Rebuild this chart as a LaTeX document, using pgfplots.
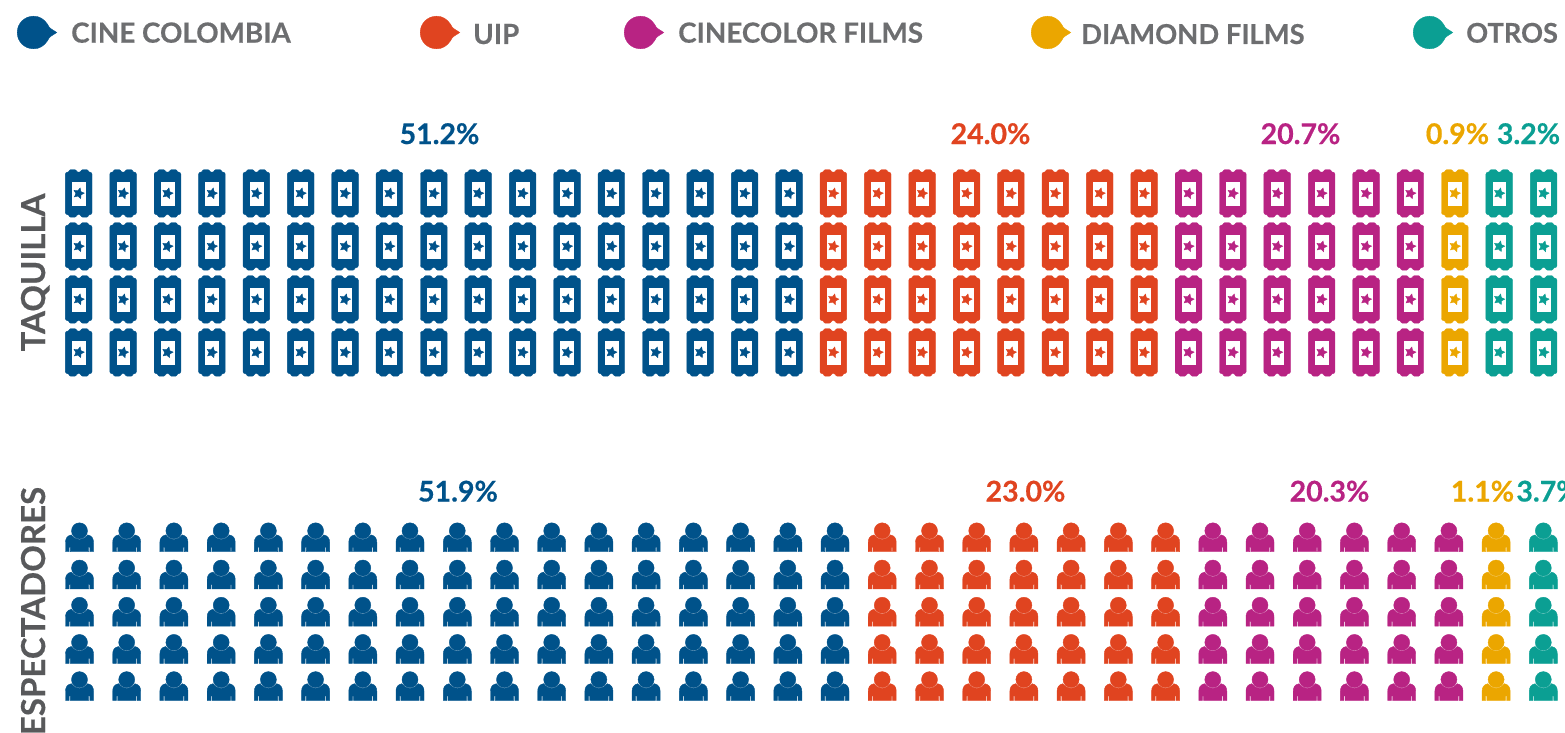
\documentclass[border=0pt]{standalone}
\usepackage{fontspec}
\setmainfont{Lato}[BoldFeatures={FakeBold=0.4}]
\usepackage{pgfplots}
\pgfplotsset{compat=1.18}
\definecolor{cblue}{HTML}{00528A}
\definecolor{cred}{HTML}{E04420}
\definecolor{cmag}{HTML}{B82383}
\definecolor{cyel}{HTML}{EBA600}
\definecolor{cteal}{HTML}{0B9F93}
\definecolor{cgr}{HTML}{6D6E70}
\definecolor{cgd}{HTML}{58595B}
\pgfdeclareplotmark{ticket}{%
  \begin{scope}[x=1pt,y=1pt]
  \fill[rounded corners=0.8pt]
    (-13.3,-20) -- (-13.3,20) -- (-12,21.2) -- (-10,21.3) -- (-9,23.7) -- (-3,23.7)
    -- (-1.6,21.3) -- (1.6,21.3) -- (3,23.7) -- (9,23.7) -- (10,21.3) -- (12,21.2) -- (13.3,20)
    -- (13.3,-20) -- (12,-21.2) -- (10,-21.3) -- (9,-23.7) -- (3,-23.7)
    -- (1.6,-21.3) -- (-1.6,-21.3) -- (-3,-23.7) -- (-9,-23.7) -- (-10,-21.3) -- (-12,-21.2) -- cycle;
  \fill[white] (-6.4,-11.6) rectangle (6.4,11.6);
  \fill (75:5.6) -- (111:2.8) -- (147:5.6) -- (183:2.8) -- (219:5.6) -- (255:2.8) -- (291:5.6) -- (327:2.8) -- (3:5.6) -- (39:2.8) -- cycle;
  \end{scope}
}
\pgfdeclareplotmark{person}{%
  \begin{scope}[x=1pt,y=1pt]
  \fill (0,6.5) circle (8);
  \fill (-14,-14.4) -- (-14,-5) .. controls (-14,-1.5) and (-12.5,1.6) .. (-8.2,2.4)
    .. controls (-5.8,-0.6) and (-2.8,-2.3) .. (0,-2.3)
    .. controls (2.8,-2.3) and (5.8,-0.6) .. (8.2,2.4)
    .. controls (12.5,1.6) and (14,-1.5) .. (14,-5) -- (14,-14.4)
    -- (10.4,-14.4) -- (10.4,-9.8) -- (9.2,-9.8) -- (9.2,-14.4)
    -- (-9.2,-14.4) -- (-9.2,-9.8) -- (-10.4,-9.8) -- (-10.4,-14.4) -- cycle;
  \end{scope}
}
\pgfdeclareplotmark{bubble}{%
  \begin{scope}[x=1pt,y=1pt]
  \fill (14.2,8) .. controls (10.5,13.5) and (6,16.3) .. (0,16.3)
    .. controls (-9,16.3) and (-16.3,9) .. (-16.3,0)
    .. controls (-16.3,-9) and (-9,-16.3) .. (0,-16.3)
    .. controls (6,-16.3) and (10.5,-13.5) .. (14.2,-8)
    .. controls (15.5,-4) and (19,-3) .. (23.2,0)
    .. controls (19,3) and (15.5,4) .. (14.2,8) -- cycle;
  \end{scope}
}
\newcommand{\leg}[3]{\node[anchor=base west,text=cgr,inner sep=0pt,font=\fontsize{#3}{#3}\selectfont\bfseries] at (axis cs:#1) {#2};}
\newcommand{\pct}[3]{\node[anchor=base,text=#3,inner sep=0pt,font=\fontsize{28.5}{29}\selectfont\bfseries] at (axis cs:#1) {#2};}
\begin{document}
\begin{tikzpicture}
\path[use as bounding box,clip] (0,0) rectangle (1565pt,733pt);
\begin{axis}[
  scale only axis,width=1565pt,height=733pt,
  xmin=0,xmax=1565,ymin=0,ymax=733,y dir=reverse,
  hide axis,clip=false,
  /tikz/every mark/.append style={solid},
]
% legend
\addplot[only marks,mark=bubble,color=cblue] coordinates {(33.5,32.5)};
\addplot[only marks,mark=bubble,color=cred] coordinates {(436.5,32.5)};
\addplot[only marks,mark=bubble,color=cmag] coordinates {(640.5,32.5)};
\addplot[only marks,mark=bubble,color=cyel] coordinates {(1047.5,32.5)};
\addplot[only marks,mark=bubble,color=cteal] coordinates {(1429.5,32.5)};
% taquilla
\addplot[only marks,mark=ticket,color=cblue] coordinates {
(78.7,193.4)(123.1,193.4)(167.5,193.4)(211.9,193.4)(256.3,193.4)(300.7,193.4)(345.0,193.4)(389.4,193.4)(433.8,193.4)(478.2,193.4)(522.6,193.4)(567.0,193.4)(611.4,193.4)(655.8,193.4)(700.2,193.4)(744.6,193.4)(789.0,193.4)
(78.7,246.4)(123.1,246.4)(167.5,246.4)(211.9,246.4)(256.3,246.4)(300.7,246.4)(345.0,246.4)(389.4,246.4)(433.8,246.4)(478.2,246.4)(522.6,246.4)(567.0,246.4)(611.4,246.4)(655.8,246.4)(700.2,246.4)(744.6,246.4)(789.0,246.4)
(78.7,299.4)(123.1,299.4)(167.5,299.4)(211.9,299.4)(256.3,299.4)(300.7,299.4)(345.0,299.4)(389.4,299.4)(433.8,299.4)(478.2,299.4)(522.6,299.4)(567.0,299.4)(611.4,299.4)(655.8,299.4)(700.2,299.4)(744.6,299.4)(789.0,299.4)
(78.7,352.4)(123.1,352.4)(167.5,352.4)(211.9,352.4)(256.3,352.4)(300.7,352.4)(345.0,352.4)(389.4,352.4)(433.8,352.4)(478.2,352.4)(522.6,352.4)(567.0,352.4)(611.4,352.4)(655.8,352.4)(700.2,352.4)(744.6,352.4)(789.0,352.4)
};
\addplot[only marks,mark=ticket,color=cred] coordinates {
(833.3,193.4)(877.7,193.4)(922.1,193.4)(966.5,193.4)(1010.9,193.4)(1055.3,193.4)(1099.7,193.4)(1144.1,193.4)
(833.3,246.4)(877.7,246.4)(922.1,246.4)(966.5,246.4)(1010.9,246.4)(1055.3,246.4)(1099.7,246.4)(1144.1,246.4)
(833.3,299.4)(877.7,299.4)(922.1,299.4)(966.5,299.4)(1010.9,299.4)(1055.3,299.4)(1099.7,299.4)(1144.1,299.4)
(833.3,352.4)(877.7,352.4)(922.1,352.4)(966.5,352.4)(1010.9,352.4)(1055.3,352.4)(1099.7,352.4)(1144.1,352.4)
};
\addplot[only marks,mark=ticket,color=cmag] coordinates {
(1188.5,193.4)(1232.8,193.4)(1277.2,193.4)(1321.6,193.4)(1366.0,193.4)(1410.4,193.4)
(1188.5,246.4)(1232.8,246.4)(1277.2,246.4)(1321.6,246.4)(1366.0,246.4)(1410.4,246.4)
(1188.5,299.4)(1232.8,299.4)(1277.2,299.4)(1321.6,299.4)(1366.0,299.4)(1410.4,299.4)
(1188.5,352.4)(1232.8,352.4)(1277.2,352.4)(1321.6,352.4)(1366.0,352.4)(1410.4,352.4)
};
\addplot[only marks,mark=ticket,color=cyel] coordinates {(1454.8,193.4)(1454.8,246.4)(1454.8,299.4)(1454.8,352.4)};
\addplot[only marks,mark=ticket,color=cteal] coordinates {
(1499.2,193.4)(1543.6,193.4)(1499.2,246.4)(1543.6,246.4)(1499.2,299.4)(1543.6,299.4)(1499.2,352.4)(1543.6,352.4)
};
% espectadores
\addplot[only marks,mark=person,color=cblue] coordinates {
(79.5,537.3)(126.7,537.3)(173.9,537.3)(221.2,537.3)(268.4,537.3)(315.6,537.3)(362.8,537.3)(410.0,537.3)(457.3,537.3)(504.5,537.3)(551.7,537.3)(598.9,537.3)(646.1,537.3)(693.4,537.3)(740.6,537.3)(787.8,537.3)(835.0,537.3)
(79.5,574.5)(126.7,574.5)(173.9,574.5)(221.2,574.5)(268.4,574.5)(315.6,574.5)(362.8,574.5)(410.0,574.5)(457.3,574.5)(504.5,574.5)(551.7,574.5)(598.9,574.5)(646.1,574.5)(693.4,574.5)(740.6,574.5)(787.8,574.5)(835.0,574.5)
(79.5,611.7)(126.7,611.7)(173.9,611.7)(221.2,611.7)(268.4,611.7)(315.6,611.7)(362.8,611.7)(410.0,611.7)(457.3,611.7)(504.5,611.7)(551.7,611.7)(598.9,611.7)(646.1,611.7)(693.4,611.7)(740.6,611.7)(787.8,611.7)(835.0,611.7)
(79.5,648.9)(126.7,648.9)(173.9,648.9)(221.2,648.9)(268.4,648.9)(315.6,648.9)(362.8,648.9)(410.0,648.9)(457.3,648.9)(504.5,648.9)(551.7,648.9)(598.9,648.9)(646.1,648.9)(693.4,648.9)(740.6,648.9)(787.8,648.9)(835.0,648.9)
(79.5,686.1)(126.7,686.1)(173.9,686.1)(221.2,686.1)(268.4,686.1)(315.6,686.1)(362.8,686.1)(410.0,686.1)(457.3,686.1)(504.5,686.1)(551.7,686.1)(598.9,686.1)(646.1,686.1)(693.4,686.1)(740.6,686.1)(787.8,686.1)(835.0,686.1)
};
\addplot[only marks,mark=person,color=cred] coordinates {
(882.2,537.3)(929.5,537.3)(976.7,537.3)(1023.9,537.3)(1071.1,537.3)(1118.3,537.3)(1165.6,537.3)
(882.2,574.5)(929.5,574.5)(976.7,574.5)(1023.9,574.5)(1071.1,574.5)(1118.3,574.5)(1165.6,574.5)
(882.2,611.7)(929.5,611.7)(976.7,611.7)(1023.9,611.7)(1071.1,611.7)(1118.3,611.7)(1165.6,611.7)
(882.2,648.9)(929.5,648.9)(976.7,648.9)(1023.9,648.9)(1071.1,648.9)(1118.3,648.9)(1165.6,648.9)
(882.2,686.1)(929.5,686.1)(976.7,686.1)(1023.9,686.1)(1071.1,686.1)(1118.3,686.1)(1165.6,686.1)
};
\addplot[only marks,mark=person,color=cmag] coordinates {
(1212.8,537.3)(1260.0,537.3)(1307.2,537.3)(1354.4,537.3)(1401.7,537.3)(1448.9,537.3)
(1212.8,574.5)(1260.0,574.5)(1307.2,574.5)(1354.4,574.5)(1401.7,574.5)(1448.9,574.5)
(1212.8,611.7)(1260.0,611.7)(1307.2,611.7)(1354.4,611.7)(1401.7,611.7)(1448.9,611.7)
(1212.8,648.9)(1260.0,648.9)(1307.2,648.9)(1354.4,648.9)(1401.7,648.9)(1448.9,648.9)
(1212.8,686.1)(1260.0,686.1)(1307.2,686.1)(1354.4,686.1)(1401.7,686.1)(1448.9,686.1)
};
\addplot[only marks,mark=person,color=cyel] coordinates {(1496.1,537.3)(1496.1,574.5)(1496.1,611.7)(1496.1,648.9)(1496.1,686.1)};
\addplot[only marks,mark=person,color=cteal] coordinates {(1543.3,537.3)(1543.3,574.5)(1543.3,611.7)(1543.3,648.9)(1543.3,686.1)};
% texts
\leg{71,42.7}{CINE COLOMBIA}{27.8}
\leg{473,44}{UIP}{27.8}
\leg{678,42.7}{CINECOLOR FILMS}{27.8}
\leg{1081,44}{DIAMOND FILMS}{27.4}
\leg{1466,42.7}{OTROS}{27.2}
\pct{439.5,144}{51.2\%}{cblue}
\pct{990.5,144}{24.0\%}{cred}
\pct{1300.5,144}{20.7\%}{cmag}
\pct{1457.5,144}{0.9\%}{cyel}
\pct{1528.5,144}{3.2\%}{cteal}
\pct{458,501.5}{51.9\%}{cblue}
\pct{1025.5,501.5}{23.0\%}{cred}
\pct{1329.5,501.5}{20.3\%}{cmag}
\pct{1482.5,501.5}{1.1\%}{cyel}
\pct{1548,501.5}{3.7\%}{cteal}
\node[rotate=90,anchor=base,text=cgd,inner sep=0pt,font=\fontsize{33}{33}\selectfont\bfseries] at (axis cs:45,272.5) {TAQUILLA};
\node[rotate=90,anchor=base,text=cgd,inner sep=0pt,font=\fontsize{33}{33}\selectfont\bfseries] at (axis cs:45,611) {ESPECTADORES};
\end{axis}
\end{tikzpicture}
\end{document}
